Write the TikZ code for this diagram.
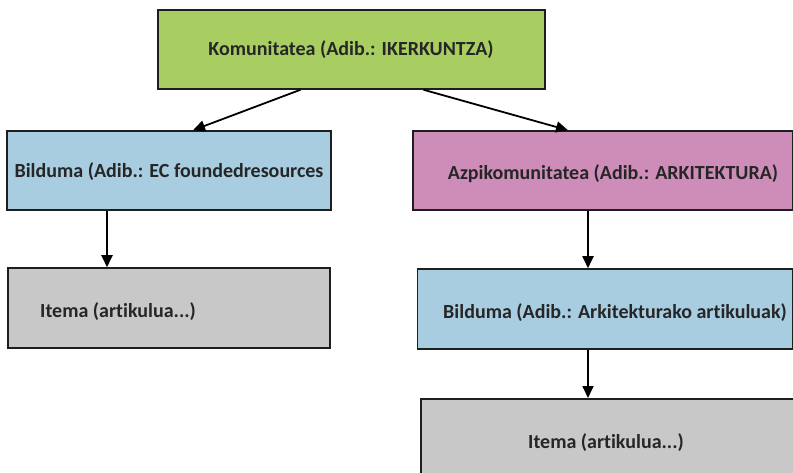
\documentclass[tikz,border=0pt]{standalone}
\usepackage{fontspec}
\setmainfont{Carlito}[Ligatures=NoCommon]
\usetikzlibrary{arrows.meta}
\definecolor{cgreen}{RGB}{168,206,98}
\definecolor{cblue}{RGB}{168,204,224}
\definecolor{cpink}{RGB}{206,140,184}
\definecolor{cgray}{RGB}{200,200,200}
\definecolor{cline}{RGB}{30,30,30}
\tikzset{
  lbl/.style={font=\fontsize{20}{23}\selectfont\bfseries, text=black!85, inner sep=0pt},
  box/.style={draw=cline, line width=1.5pt, inner sep=0pt},
  conn/.style={draw=black, line width=1.8pt, -{Triangle[length=12pt,width=11pt]}}
}
\begin{document}
\begin{tikzpicture}[x=1pt,y=-1pt]
\useasboundingbox (0,0) rectangle (793,473);
\clip (0,0) rectangle (793,473);
% boxes
\node[box, fill=cgreen, minimum width=387pt, minimum height=79pt] (kom) at (351.5,49.5) {};
\node[box, fill=cblue, minimum width=324pt, minimum height=79pt] (bl) at (169,170.5) {};
\node[box, fill=cpink, minimum width=380pt, minimum height=79pt] (az) at (603,170.5) {};
\node[box, fill=cgray, minimum width=322pt, minimum height=80pt] (itl) at (169,308) {};
\node[box, fill=cblue, minimum width=375pt, minimum height=80pt] (br) at (605,309) {};
\node[box, fill=cgray, minimum width=376pt, minimum height=90pt, anchor=north west] (itr) at (420,398) {};
% labels
\node[lbl, anchor=base] (komt) at (351,56) {Komunitatea (Adib.: IKERKUNTZA)};
\node[lbl, anchor=base] (blt) at (169,178) {Bilduma (Adib.: EC foundedresources};
\node[lbl, anchor=base] (azt) at (613,180) {Azpikomunitatea (Adib.: ARKITEKTURA)};
\node[lbl, anchor=base west] (itlt) at (40,318) {Itema (artikulua...)};
\node[lbl, anchor=base] (brt) at (615,319) {Bilduma (Adib.: Arkitekturako artikuluak)};
\node[lbl, anchor=base] (itrt) at (606,448) {Itema (artikulua...)};
% connectors
\coordinate (rx) at (588,0);
\draw[conn] ([xshift=-51pt]kom.south) -- ([xshift=24pt]bl.north);
\draw[conn] ([xshift=72pt]kom.south) -- ([xshift=-35pt]az.north);
\draw[conn] ([xshift=-62pt]bl.south) -- ([xshift=-62pt]itl.north);
\draw[conn] (az.south -| rx) -- (br.north -| rx);
\draw[conn] (br.south -| rx) -- (itr.north -| rx);
\end{tikzpicture}
\end{document}
